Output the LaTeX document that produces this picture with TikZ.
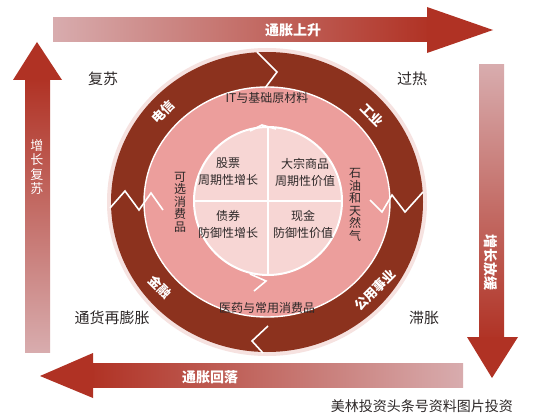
\documentclass[tikz,border=0pt]{standalone}
\usepackage{fontspec}
\setmainfont{Noto Sans CJK SC}
\definecolor{arrowdark}{RGB}{176,50,36}
\definecolor{arrowlight}{RGB}{216,172,174}
\definecolor{ringdark}{RGB}{140,50,30}
\definecolor{ringpink}{RGB}{236,158,156}
\definecolor{discpink}{RGB}{247,214,212}
\definecolor{halo}{RGB}{246,226,224}
\definecolor{txt}{RGB}{45,40,40}
\begin{document}
\begin{tikzpicture}[x=1pt,y=-1pt,
  corner/.style={font=\fontsize{15}{17}\selectfont, text=txt, inner sep=0pt},
  arrowtxt/.style={font=\fontsize{14}{15}\bfseries, text=white, inner sep=0pt},
  ringtxt/.style={font=\fontsize{13}{14}\bfseries, text=white, inner sep=0pt},
  sectortxt/.style={font=\fontsize{12}{12.5}\selectfont, text=txt, inner sep=0pt, align=center},
  quadtxt/.style={font=\fontsize{12}{17}\selectfont, text=txt, inner sep=0pt, align=center},
  zig/.style={draw=white, line width=1.6pt, line join=miter},
  ]
\fill[white] (0,0) rectangle (541,417);
\useasboundingbox (0,0) rectangle (541,417);

% ---- big arrows ----
% top (rightwards)
\shade[left color=arrowlight, right color=arrowdark] (53,18) rectangle (430,42);
\fill[arrowdark] (427,7) -- (493,30) -- (427,53) -- cycle;
% right (downwards)
\shade[top color=arrowlight, bottom color=arrowdark] (479,65) rectangle (504,340);
\fill[arrowdark] (467,337) -- (492,378) -- (518,337) -- cycle;
% bottom (leftwards)
\shade[left color=arrowdark, right color=arrowlight] (90,363) rectangle (463,387);
\fill[arrowdark] (93,353) -- (40,376) -- (93,398) -- cycle;
% left (upwards)
\shade[top color=arrowdark, bottom color=arrowlight] (25,78) rectangle (50,352);
\fill[arrowdark] (13,80) -- (37,42) -- (62,80) -- cycle;

\node[arrowtxt] (up) at (293,30) {通胀上升};
\node[arrowtxt] (down) at (210,377) {通胀回落};
\node[arrowtxt, align=center, font=\fontsize{13}{14.3}\selectfont] (grow) at (37,167) {增\\长\\复\\苏};
\node[arrowtxt, rotate=-90] (slow) at (491,262) {增长放缓};

% ---- corner labels ----
\node[corner] (c1) at (103,79) {复苏};
\node[corner] (c2) at (412,79) {过热};
\node[corner] (c3) at (112,318) {通货再膨胀};
\node[corner] (c4) at (424,318) {滞胀};

% ---- clock ----
\fill[halo] (267,202) ellipse [x radius=160, y radius=154];
\fill[ringdark] (267,202) ellipse [x radius=156, y radius=150];
\fill[ringpink] (267,202) ellipse [x radius=123, y radius=115];
\draw[white, line width=1.4pt] (267,202) ellipse [x radius=123, y radius=115];
\fill[discpink] (268,201) ellipse [x radius=74, y radius=74];
\draw[white, line width=2pt] (268,201) ellipse [x radius=74, y radius=74];
\draw[white, line width=2pt] (194,201) -- (342,201);
\draw[white, line width=2pt] (268,127) -- (268,275);

% zigzag cuts
\draw[zig] (257,52) -- (277,72) -- (265,88);
\draw[zig] (268,326) -- (252,341) -- (263,353);
\draw[zig] (110,208) -- (125,191) -- (139,210) -- (151,193) -- (163,210);
\draw[zig] (370,200) -- (382,212) -- (392,195) -- (405,212) -- (423,192);
\draw[zig] (250,131) -- (262,125) -- (276,129);
\draw[zig] (250,274) -- (266,281) -- (254,291);

% ring labels
\node[ringtxt, rotate=45] (r1) at (163,112) {电信};
\node[ringtxt, rotate=-45] (r2) at (372,115) {工业};
\node[ringtxt, rotate=-45] (r3) at (160,287) {金融};
\node[ringtxt, rotate=45] (r4) at (375,290) {公用事业};

% sector labels
\node[sectortxt] (s1) at (267,98) {IT与基础原材料};
\node[sectortxt] (s2) at (267,308) {医药与常用消费品};
\node[sectortxt] (s3) at (180,202) {可\\选\\消\\费\\品};
\node[sectortxt] (s4) at (355,205) {石\\油\\和\\天\\然\\气};

% quadrants
\node[quadtxt] (q1) at (228,172) {股票\\周期性增长};
\node[quadtxt] (q2) at (305,172) {大宗商品\\周期性价值};
\node[quadtxt] (q3) at (228,224) {债券\\防御性增长};
\node[quadtxt] (q4) at (303,224) {现金\\防御性价值};

% caption
\node[font=\fontsize{14}{16}\selectfont, text=txt, inner sep=0pt, anchor=east] (cap) at (513,406) {美林投资头条号资料图片投资};
\end{tikzpicture}
\end{document}
